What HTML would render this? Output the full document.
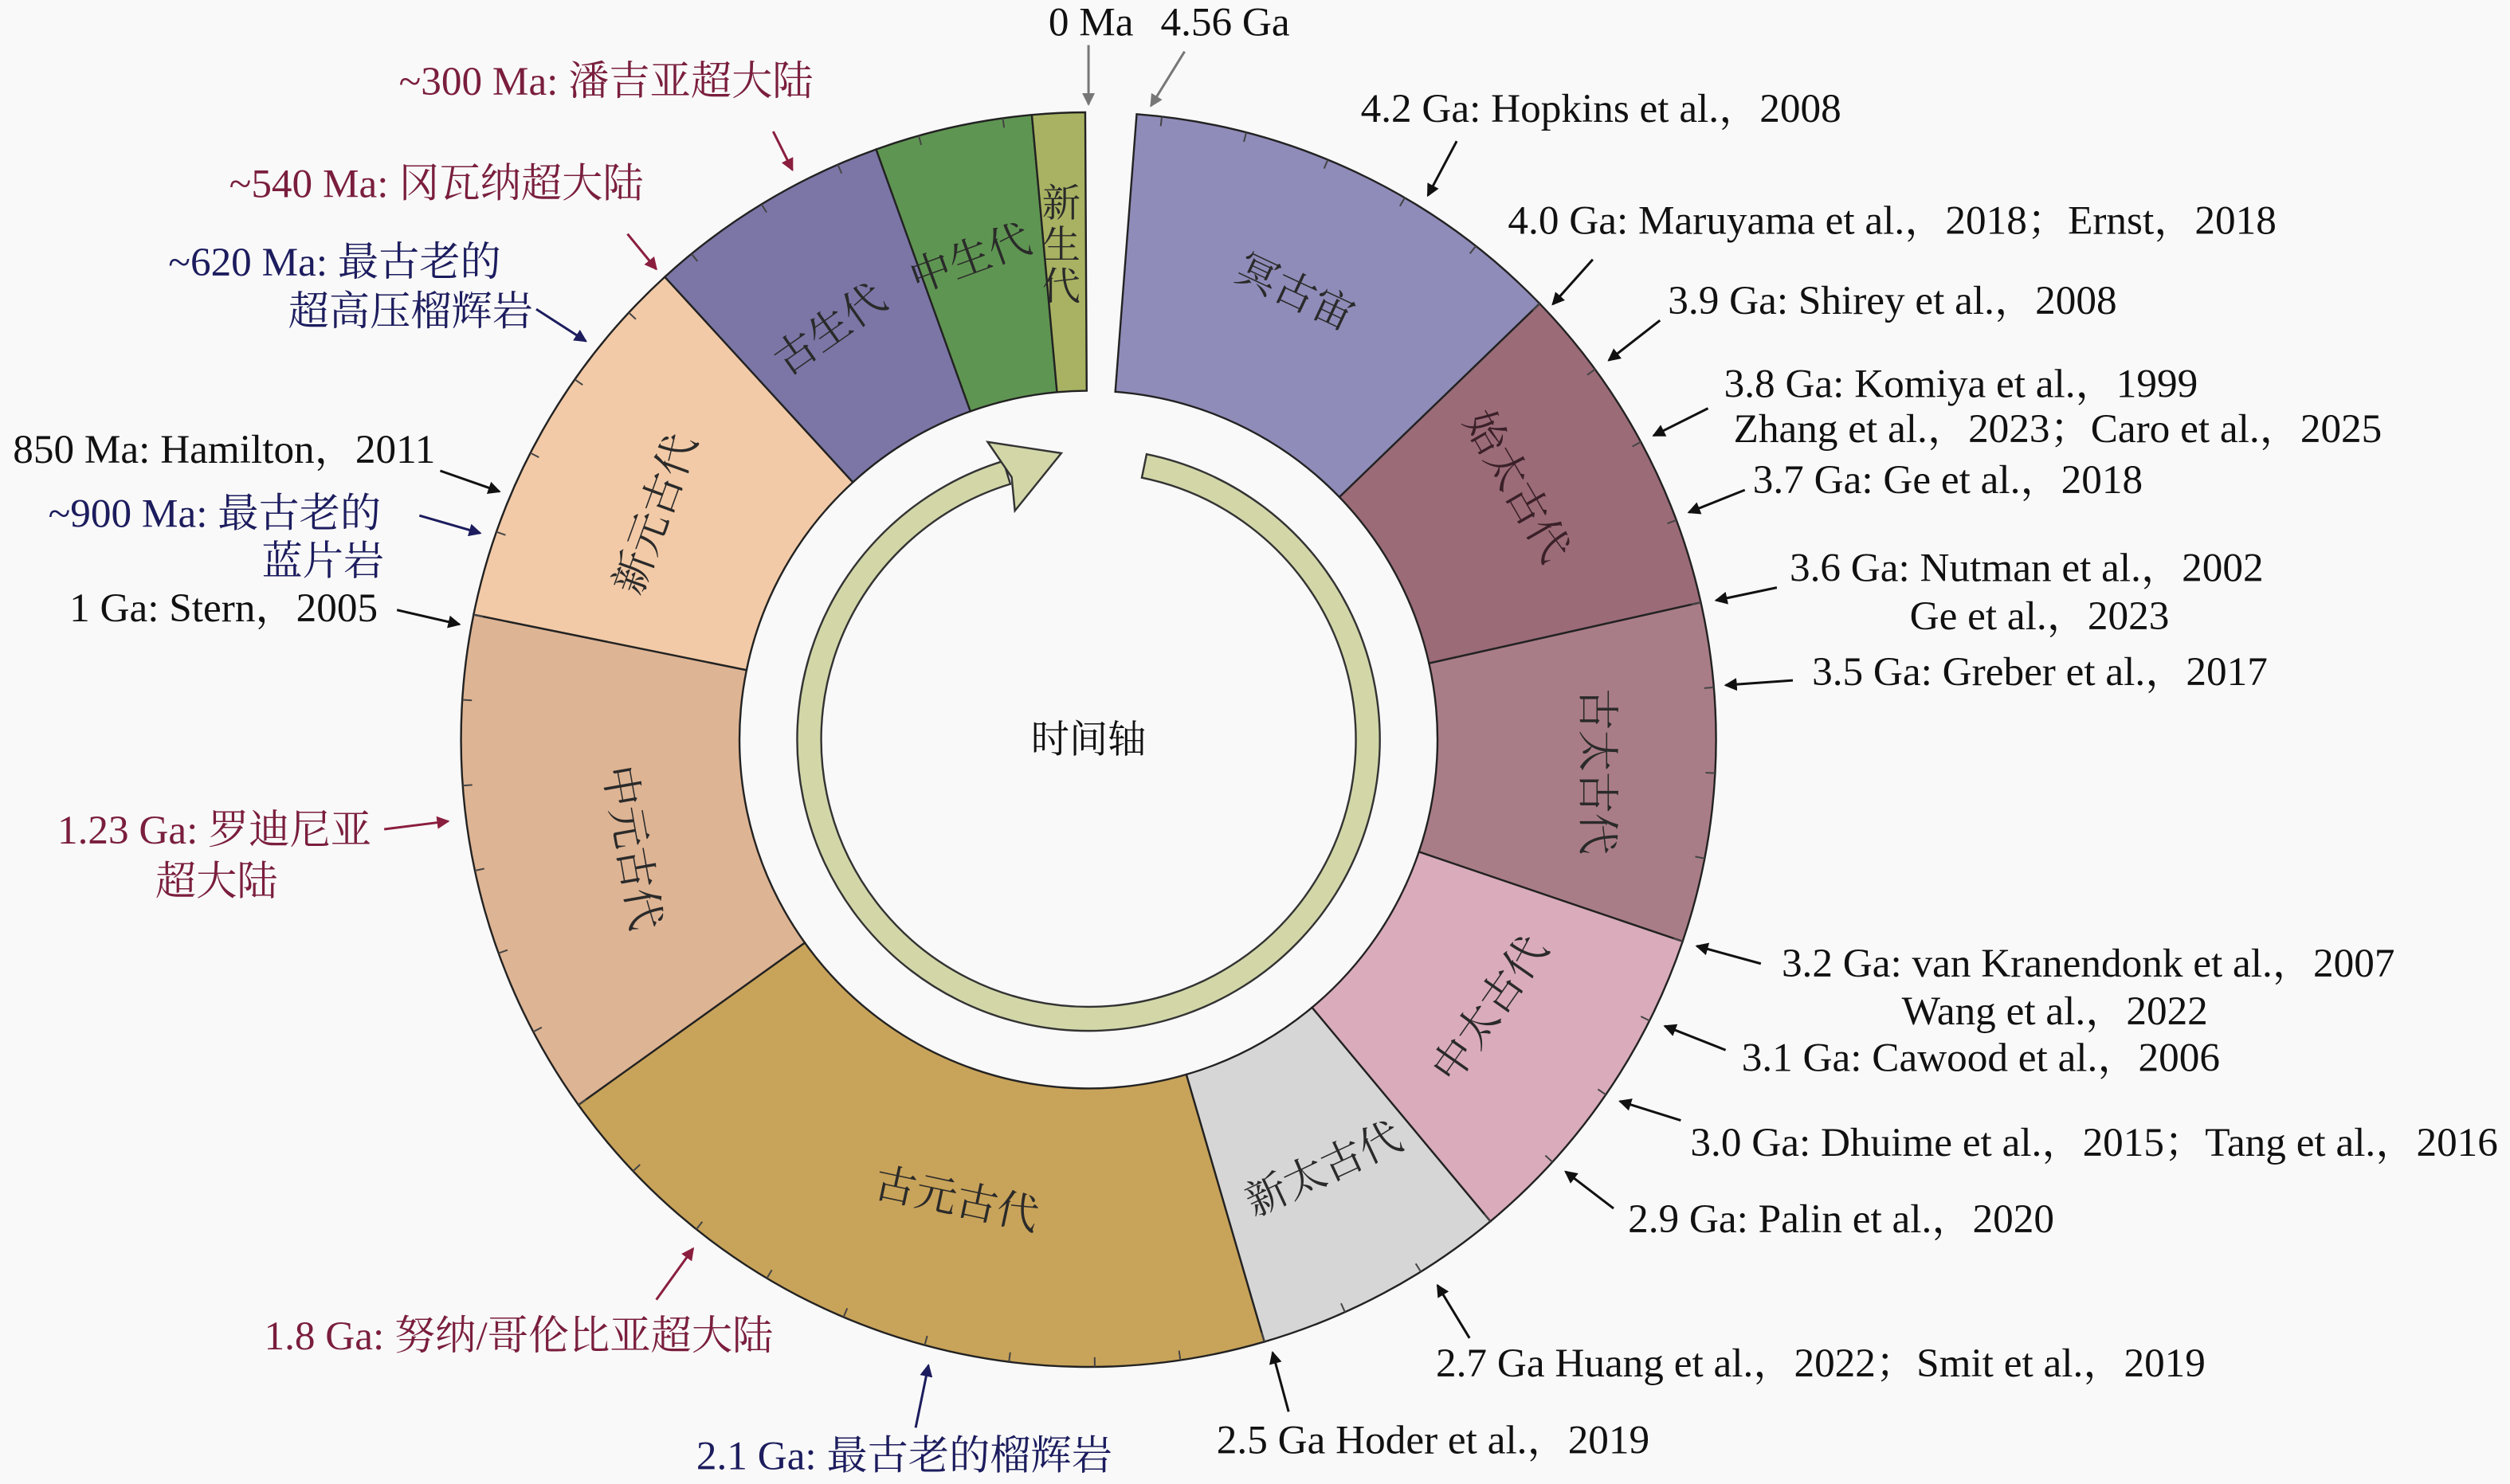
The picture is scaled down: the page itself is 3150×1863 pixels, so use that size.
<!DOCTYPE html>
<html><head><meta charset="utf-8">
<style>
html,body{margin:0;padding:0;background:#f9f9f9;}
svg{display:block;}
text{font-family:"Liberation Serif","Noto Serif CJK SC",serif;font-size:25.5px;fill:#111;}
.seg{font-size:26px;fill:#2a2a2a;}
.m{fill:#7a1e3e;}
.n{fill:#1c1c5e;}
</style></head>
<body>
<svg id="s" width="3150" height="1863" viewBox="0 0 1568 927" xmlns="http://www.w3.org/2000/svg">
<defs>
<marker id="ab" markerWidth="8" markerHeight="8" refX="7" refY="4" orient="auto" markerUnits="userSpaceOnUse"><path d="M0,0 L8,4 L0,8 Z" fill="#111"/></marker>
<marker id="ag" markerWidth="8" markerHeight="8" refX="7" refY="4" orient="auto" markerUnits="userSpaceOnUse"><path d="M0,0 L8,4 L0,8 Z" fill="#777"/></marker>
<marker id="am" markerWidth="8" markerHeight="8" refX="7" refY="4" orient="auto" markerUnits="userSpaceOnUse"><path d="M0,0 L8,4 L0,8 Z" fill="#8a1e3e"/></marker>
<marker id="an" markerWidth="8" markerHeight="8" refX="7" refY="4" orient="auto" markerUnits="userSpaceOnUse"><path d="M0,0 L8,4 L0,8 Z" fill="#1c1c5e"/></marker>
</defs>
<g id="ring"></g>
<g id="arrow" fill="#d3d7a8" stroke="#333" stroke-width="1.2"></g>
<g id="ticks" stroke="#444" stroke-width="1"></g>

<text class="seg" transform="translate(808,185) rotate(25)" text-anchor="middle" dominant-baseline="middle">冥古宙</text>
<text class="seg" transform="translate(945,305) rotate(60)" text-anchor="middle" dominant-baseline="middle" style="fill:#3a2028">始太古代</text>
<text class="seg" transform="translate(995,482) rotate(90)" text-anchor="middle" dominant-baseline="middle">古太古代</text>
<text class="seg" transform="translate(933,632) rotate(-55)" text-anchor="middle" dominant-baseline="middle">中太古代</text>
<text class="seg" transform="translate(828,733) rotate(-25)" text-anchor="middle" dominant-baseline="middle">新太古代</text>
<text class="seg" transform="translate(597,752) rotate(12)" text-anchor="middle" dominant-baseline="middle">古元古代</text>
<text class="seg" transform="translate(392,530) rotate(80)" text-anchor="middle" dominant-baseline="middle">中元古代</text>
<text class="seg" transform="translate(412,322) rotate(-70)" text-anchor="middle" dominant-baseline="middle">新元古代</text>
<text class="seg" transform="translate(520,208) rotate(-35)" text-anchor="middle" dominant-baseline="middle">古生代</text>
<text class="seg" transform="translate(607,164) rotate(-20)" text-anchor="middle" dominant-baseline="middle">中生代</text>
<text class="seg" x="663" y="135" text-anchor="middle" style="font-size:24px">新</text>
<text class="seg" x="663" y="161" text-anchor="middle" style="font-size:24px">生</text>
<text class="seg" x="663" y="187" text-anchor="middle" style="font-size:24px">代</text>

<text x="680" y="470" text-anchor="middle" style="font-size:24px">时间轴</text>

<text x="655" y="22">0 Ma</text>
<text x="725" y="22">4.56 Ga</text>
<text x="850" y="76">4.2 Ga: Hopkins et al.，2008</text>
<text x="942" y="146">4.0 Ga: Maruyama et al.，2018；Ernst，2018</text>
<text x="1042" y="196">3.9 Ga: Shirey et al.，2008</text>
<text x="1077" y="248">3.8 Ga: Komiya et al.，1999</text>
<text x="1083" y="276">Zhang et al.，2023；Caro et al.，2025</text>
<text x="1095" y="308">3.7 Ga: Ge et al.，2018</text>
<text x="1118" y="363">3.6 Ga: Nutman et al.，2002</text>
<text x="1193" y="393">Ge et al.，2023</text>
<text x="1132" y="428">3.5 Ga: Greber et al.，2017</text>
<text x="1113" y="610">3.2 Ga: van Kranendonk et al.，2007</text>
<text x="1188" y="640">Wang et al.，2022</text>
<text x="1088" y="669">3.1 Ga: Cawood et al.，2006</text>
<text x="1056" y="722">3.0 Ga: Dhuime et al.，2015；Tang et al.，2016</text>
<text x="1017" y="770">2.9 Ga: Palin et al.，2020</text>
<text x="897" y="860">2.7 Ga Huang et al.，2022；Smit et al.，2019</text>
<text x="760" y="908">2.5 Ga Hoder et al.，2019</text>
<text x="435" y="918" class="n">2.1 Ga: 最古老的榴辉岩</text>
<text x="165" y="843" class="m">1.8 Ga: 努纳/哥伦比亚超大陆</text>
<text x="232" y="527" class="m" text-anchor="end">1.23 Ga: 罗迪尼亚</text>
<text x="97" y="559" class="m">超大陆</text>
<text x="236" y="388" text-anchor="end">1 Ga: Stern，2005</text>
<text x="238" y="329" class="n" text-anchor="end">~900 Ma: 最古老的</text>
<text x="240" y="359" class="n" text-anchor="end">蓝片岩</text>
<text x="272" y="289" text-anchor="end">850 Ma: Hamilton，2011</text>
<text x="313" y="172" class="n" text-anchor="end">~620 Ma: 最古老的</text>
<text x="333" y="203" class="n" text-anchor="end">超高压榴辉岩</text>
<text x="402" y="123" class="m" text-anchor="end">~540 Ma: 冈瓦纳超大陆</text>
<text x="508" y="59" class="m" text-anchor="end">~300 Ma: 潘吉亚超大陆</text>

<g stroke-width="1.5" fill="none">
<line x1="680" y1="28" x2="680" y2="65" stroke="#777" marker-end="url(#ag)"/>
<line x1="740" y1="32" x2="719" y2="66" stroke="#777" marker-end="url(#ag)"/>
<g stroke="#111" marker-end="url(#ab)">
<line x1="910" y1="88" x2="892" y2="122"/>
<line x1="995" y1="162" x2="970" y2="190"/>
<line x1="1037" y1="200" x2="1005" y2="225"/>
<line x1="1067" y1="255" x2="1033" y2="272"/>
<line x1="1090" y1="306" x2="1055" y2="320"/>
<line x1="1110" y1="367" x2="1072" y2="375"/>
<line x1="1120" y1="425" x2="1078" y2="428"/>
<line x1="1100" y1="602" x2="1060" y2="591"/>
<line x1="1078" y1="656" x2="1040" y2="641"/>
<line x1="1050" y1="700" x2="1012" y2="688"/>
<line x1="1008" y1="755" x2="978" y2="732"/>
<line x1="918" y1="836" x2="898" y2="803"/>
<line x1="805" y1="882" x2="795" y2="845"/>
<line x1="248" y1="381" x2="287" y2="390"/>
<line x1="275" y1="294" x2="312" y2="307"/>
</g>
<g stroke="#1c1c5e" marker-end="url(#an)">
<line x1="572" y1="892" x2="580" y2="853"/>
<line x1="262" y1="322" x2="300" y2="333"/>
<line x1="335" y1="193" x2="366" y2="213"/>
</g>
<g stroke="#8a1e3e" marker-end="url(#am)">
<line x1="410" y1="812" x2="433" y2="780"/>
<line x1="240" y1="518" x2="280" y2="513"/>
<line x1="392" y1="146" x2="410" y2="168"/>
<line x1="483" y1="82" x2="495" y2="106"/>
</g>
</g>
</svg>
<script>
(function(){
var NS="http://www.w3.org/2000/svg",cx=680,cy=462,R=392,r=218;
function P(a,rad){a=a*Math.PI/180;return [cx+rad*Math.sin(a),cy-rad*Math.cos(a)];}
function A(t){return 2+(4560-t)/4560*358;}
var segs=[[4560,4000,"#8f8cb9"],[4000,3600,"#9b6b78"],[3600,3200,"#a97d87"],[3200,2800,"#d9abbb"],[2800,2500,"#d6d6d6"],[2500,1600,"#c8a35a"],[1600,1000,"#ddb494"],[1000,541,"#f2caa7"],[541,252,"#7b76a6"],[252,66,"#5f9552"],[66,0,"#a8b262"]];
var g=document.getElementById("ring");
segs.forEach(function(s,i){
 var a0=i==0?4.4:A(s[0]), a1=i==segs.length-1?359.7:A(s[1]);
 var p1=P(a0,R),p2=P(a1,R),p3=P(a1,r),p4=P(a0,r),lg=(a1-a0)>180?1:0;
 var d="M"+p1+" A"+R+","+R+" 0 "+lg+" 1 "+p2+" L"+p3+" A"+r+","+r+" 0 "+lg+" 0 "+p4+" Z";
 var e=document.createElementNS(NS,"path");e.setAttribute("d",d);e.setAttribute("fill",s[2]);e.setAttribute("stroke","#222");e.setAttribute("stroke-width","1.2");g.appendChild(e);
});
var tk=document.getElementById("ticks");
for(var t=4500;t>0;t-=100){var a=A(t);var q1=P(a,R),q2=P(a,R-6);var l=document.createElementNS(NS,"line");l.setAttribute("x1",q1[0]);l.setAttribute("y1",q1[1]);l.setAttribute("x2",q2[0]);l.setAttribute("y2",q2[1]);tk.appendChild(l);}
var ar=document.getElementById("arrow"),Ro=182,Ri=167,b0=11.5,b1=343;
var o1=P(b0,Ro),o2=P(b1,Ro),i2=P(b1,Ri),i1=P(b0,Ri);
var d="M"+o1+" A"+Ro+","+Ro+" 0 1 1 "+o2+" L"+i2+" A"+Ri+","+Ri+" 0 1 0 "+i1+" Z";
var e=document.createElementNS(NS,"path");e.setAttribute("d",d);ar.appendChild(e);
var h=document.createElementNS(NS,"path");h.setAttribute("d","M617,276 L663,283 L634,319 L632,298 Z");ar.appendChild(h);
})();
</script>
</body></html>
